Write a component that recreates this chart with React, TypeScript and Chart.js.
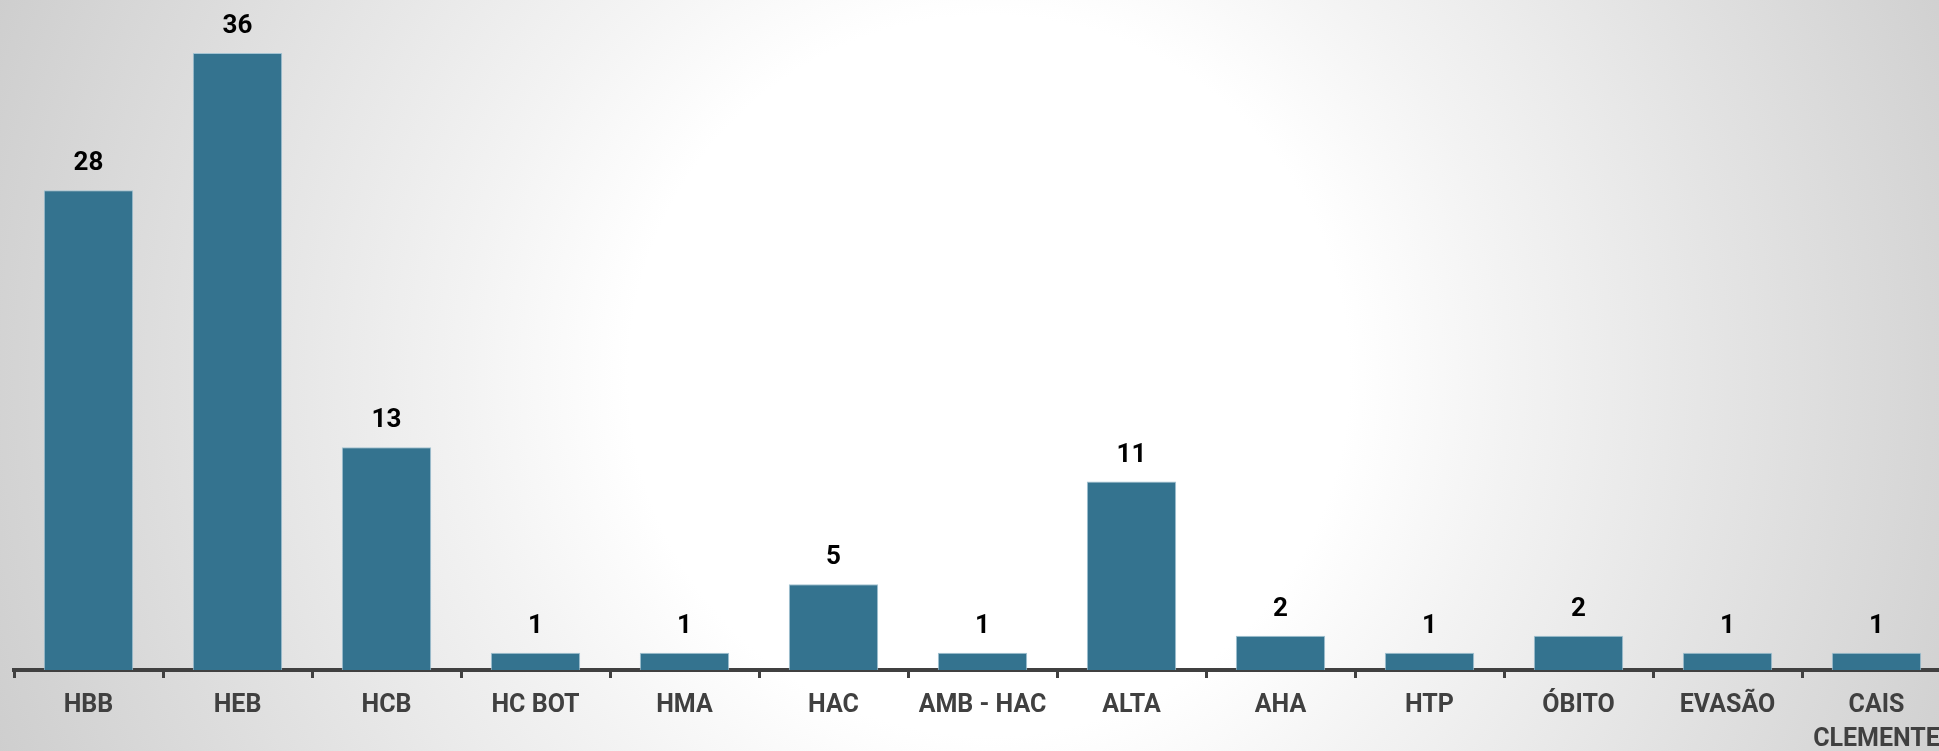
import React, { useEffect, useRef } from "react";
import { Chart, registerables } from "chart.js";

Chart.register(...registerables);

const categories: (string | string[])[] = [
  "HBB",
  "HEB",
  "HCB",
  "HC BOT",
  "HMA",
  "HAC",
  "AMB - HAC",
  "ALTA",
  "AHA",
  "HTP",
  "ÓBITO",
  "EVASÃO",
  ["CAIS", "CLEMENTE"],
];
const values: number[] = [28, 36, 13, 1, 1, 5, 1, 11, 2, 1, 2, 1, 1];

const valueLabels = {
  id: "valueLabels",
  afterDatasetsDraw(chart: any) {
    const ctx = chart.ctx;
    const meta = chart.getDatasetMeta(0);
    ctx.save();
    ctx.font = "bold 26px Roboto";
    ctx.fillStyle = "#000000";
    ctx.textAlign = "center";
    ctx.textBaseline = "alphabetic";
    meta.data.forEach((bar: any, i: number) => {
      ctx.fillText(String(values[i]), bar.x, bar.y - 20);
    });
    ctx.restore();
  },
};

export default function App() {
  const ref = useRef<HTMLCanvasElement | null>(null);

  useEffect(() => {
    if (!ref.current) return;
    const chart = new Chart(ref.current, {
      type: "bar",
      data: {
        labels: categories,
        datasets: [
          {
            data: values,
            backgroundColor: "#34738f",
            borderColor: "#a3c3d2",
            borderWidth: 1,
            barPercentage: 0.6,
            categoryPercentage: 1,
          },
        ],
      },
      options: {
        responsive: false,
        animation: false,
        layout: { padding: { left: 14, right: 0, top: 0, bottom: 0 } },
        plugins: {
          legend: { display: false },
          title: { display: false },
          tooltip: { enabled: false },
        },
        scales: {
          y: { display: false, min: 0, max: 39.1 },
          x: {
            offset: true,
            grid: {
              offset: true,
              drawOnChartArea: false,
              drawTicks: true,
              tickLength: 8,
              color: "#404040",
              lineWidth: 3,
            },
            border: { display: true, color: "#404040", width: 4 },
            ticks: {
              color: "#404040",
              padding: 11,
              maxRotation: 0,
              minRotation: 0,
              autoSkip: false,
              font: { family: "Roboto", size: 25, weight: "bold", lineHeight: 1.36 },
            },
          },
        },
      },
      plugins: [valueLabels],
    });
    return () => chart.destroy();
  }, []);

  return (
    <div
      style={{
        position: "fixed",
        left: 0,
        top: 0,
        width: 1939,
        height: 751,
        overflow: "hidden",
        background:
          "radial-gradient(circle at 51% 50%, #ffffff 0px, #ffffff 360px, #f3f3f3 520px, #cecece 1060px)",
      }}
    >
      <canvas
        ref={ref}
        width={1951}
        height={768}
        style={{ position: "absolute", left: 0, top: 0, width: 1951, height: 768 }}
      />
    </div>
  );
}
